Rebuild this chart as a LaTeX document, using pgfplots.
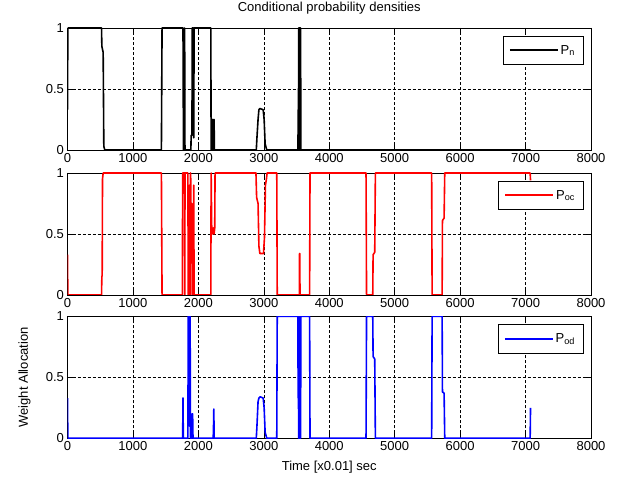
\documentclass[border=0pt]{standalone}
\usepackage{fontspec}
\setmainfont{Liberation Sans}
\usepackage{pgfplots}
\pgfplotsset{compat=1.18}
\newcommand\ff{\fontsize{13}{15}\selectfont}
\pgfplotsset{
  panel/.style={
    scale only axis, width=523.5pt, height=122pt, anchor=south west,
    xmin=0, xmax=8000, ymin=0, ymax=1,
    xtick={0,1000,...,8000}, ytick={0,0.5,1},
    grid=major, major grid style={black, line width=0.4pt, dash pattern=on 3pt off 2pt},
    tick align=inside, xtick pos=both, ytick pos=both, major tick length=5pt,
    axis line style={line width=0.6pt}, tick style={black, line width=0.6pt},
    /pgf/number format/assume math mode=true,
    /pgf/number format/set thousands separator={},
    tick label style={font=\ff},
    legend style={at={(0.985,0.935)}, anchor=north east, draw=black,
      inner xsep=6pt, inner ysep=7pt, font=\ff},
    legend image code/.code={\draw[#1, line width=1.8pt] (0pt,0pt) -- (48pt,0pt);},
    every axis plot/.append style={line width=1.6pt, line join=round},
  }
}
\begin{document}
\begin{tikzpicture}
\useasboundingbox (0,0) rectangle (618pt,486pt);
% top: P_n
\begin{axis}[panel, at={(67.5pt,336pt)}, title={Conditional probability densities},
  every axis title/.style={at={(0.5,1)}, anchor=center, yshift=20pt, font=\ff}]
\addplot[black] coordinates {
(0,0.33) (5,1) (520,1) (525,0.85) (545,0.8) (555,0.03) (570,0)
(1435,0) (1445,1)
(1765,1) (1772,0) (1786,0) (1790,1) (1795,0)
(1885,0) (1890,0.12) (1902,0.12) (1906,1) (1926,1) (1930,0.1) (1934,1)
(2190,1) (2195,0) (2200,0.25) (2205,0) (2212,0.25) (2218,0) (2226,0.25) (2232,0) (2240,0.25) (2245,0)
(2885,0) (2895,0.1) (2912,0.25) (2925,0.33) (2940,0.34) (2990,0.33) (3005,0.25) (3020,0.05) (3045,0)
(3522,0) (3525,0.33) (3530,0.33) (3533,1) (3545,1) (3548,0) (3552,1) (3562,1) (3566,0)
(7076,0)
};
\legend{P\textsubscript{n}}
\end{axis}
% middle: P_oc
\begin{axis}[panel, at={(67.5pt,191pt)}]
\addplot[red] coordinates {
(0,0.33) (5,0) (520,0) (525,0.15) (530,0.16) (535,0.95) (545,1)
(1435,1) (1445,0)
(1755,0) (1760,1) (1788,1) (1792,0) (1796,1) (1840,1) (1845,0) (1860,0) (1863,0.9) (1866,0)
(1874,0) (1878,1) (1882,1) (1886,0.75) (1900,0.75) (1906,0) (1926,0) (1930,0.9) (1934,0)
(2190,0) (2195,1) (2205,0.5) (2212,0.55) (2222,0.5) (2230,0.55) (2240,0.5) (2250,0.55) (2255,1)
(2880,1) (2890,0.8) (2912,0.75) (2925,0.4) (2940,0.34) (2995,0.34) (3010,0.47) (3025,0.9) (3040,0.95) (3050,1)
(3198,1) (3205,0) (3543,0) (3546,0.34) (3550,0.34) (3553,0) (3700,0) (3706,1)
(4562,1) (4570,0) (4665,0) (4670,0.33) (4695,0.35) (4705,1)
(5565,1) (5572,0) (5725,0) (5730,0.61) (5755,0.63) (5765,1)
(7070,1) (7076,0.94)
};
\legend{P\textsubscript{oc}}
\end{axis}
% bottom: P_od
\begin{axis}[panel, at={(67.5pt,47.7pt)},
  xlabel={Time [x0.01] sec}, ylabel={Weight Allocation},
  every axis x label/.style={at={(axis description cs:0.5,-0.24)}, anchor=center, font=\ff},
  every axis y label/.style={at={(axis description cs:-0.082,0.5)}, rotate=90, anchor=center, font=\ff}]
\addplot[blue] coordinates {
(0,0.33) (5,0) (1760,0) (1765,0.33) (1770,0)
(1840,0) (1845,1) (1860,1) (1863,0.1) (1866,1) (1874,1) (1878,0)
(1898,0) (1902,0.2) (1906,0.05) (1912,0.2) (1918,0)
(2225,0) (2230,0.05) (2236,0.24) (2241,0)
(2885,0) (2895,0.1) (2912,0.3) (2925,0.33) (2945,0.34) (2990,0.33) (3005,0.25) (3020,0.05) (3045,0)
(3198,0) (3205,1) (3520,1) (3525,0.33) (3530,0.33) (3533,0) (3545,0) (3548,1) (3552,0) (3562,0) (3566,1) (3700,1) (3706,0)
(4562,0) (4570,1) (4665,1) (4670,0.67) (4695,0.65) (4705,0)
(5565,0) (5572,1) (5725,1) (5730,0.38) (5755,0.37) (5765,0)
(7070,0) (7076,0.25)
};
\legend{P\textsubscript{od}}
\end{axis}
\end{tikzpicture}
\end{document}
